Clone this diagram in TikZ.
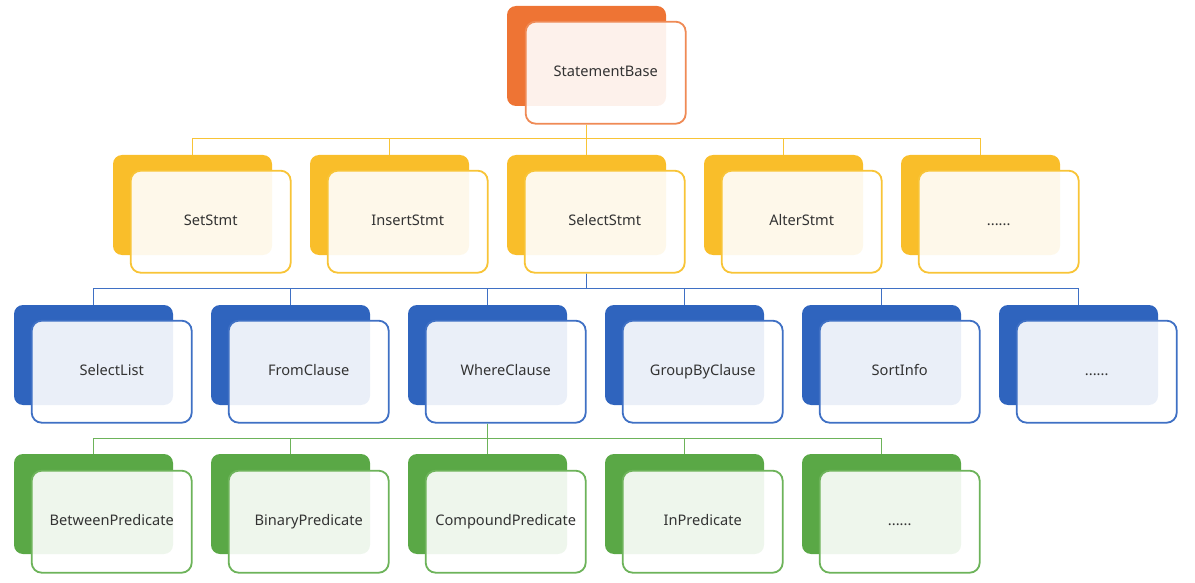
\documentclass[tikz,border=0pt]{standalone}
\usepackage{fontspec}
\setmainfont{Noto Sans}
\usetikzlibrary{positioning}

\definecolor{orgback}{HTML}{EE7434}
\definecolor{orgedge}{HTML}{EF8A55}
\definecolor{yelback}{HTML}{F9BE2A}
\definecolor{yeledge}{HTML}{F8C437}
\definecolor{bluback}{HTML}{2F64BE}
\definecolor{bluedge}{HTML}{3F70C4}
\definecolor{grnback}{HTML}{5AA846}
\definecolor{grnedge}{HTML}{6DB35A}
\definecolor{txtgray}{HTML}{333333}

\newcommand{\moredots}{......}

\tikzset{
	backbox/.style={fill=#1, rounded corners=9pt, minimum width=159pt, minimum height=100pt, inner sep=0pt},
	frontbox/.style={draw=#1, line width=1.8pt, fill=white, fill opacity=0.9, text opacity=1,
		rounded corners=10pt, minimum width=160pt, minimum height=102pt, inner sep=0pt,
		text height=10.5pt, text depth=3.5pt,
		anchor=north west, text=txtgray, font=\fontsize{14.6}{17}\selectfont},
	link/.style={draw=#1, line width=1.7pt}
}

\begin{document}
\begin{tikzpicture}[x=1pt, y=-1pt]

	\useasboundingbox (0,0) rectangle (1195,583);

	% draw root
	\node[backbox=orgback] (baseb) at (586.5,56) {};
	\node[frontbox=orgedge] (base) at ([shift={(18,15)}]baseb.north west) {StatementBase};

	% draw statements
	\foreach \n/\t [count=\i from 0] in {set/SetStmt, ins/InsertStmt, sel/SelectStmt, alt/AlterStmt, stmore/\moredots}
	{
		\node[backbox=yelback] (\n b) at (192.5+197*\i,205) {};
		\draw[link=yeledge] (base.south -| baseb.north) -- ++(0,14) -| (\n b.north);
		\node[frontbox=yeledge] (\n) at ([shift={(17,15)}]\n b.north west) {\t};
	}

	% draw clauses
	\foreach \n/\t [count=\i from 0] in {list/SelectList, from/FromClause, where/WhereClause, group/GroupByClause, sort/SortInfo, clmore/\moredots}
	{
		\node[backbox=bluback] (\n b) at (93.5+197*\i,355) {};
		\draw[link=bluedge] (sel.south -| selb.north) -- ++(0,15) -| (\n b.north);
		\node[frontbox=bluedge] (\n) at ([shift={(17,15)}]\n b.north west) {\t};
	}

	% draw predicates
	\foreach \n/\t [count=\i from 0] in {betw/BetweenPredicate, bin/BinaryPredicate, comp/CompoundPredicate, inp/InPredicate, prmore/\moredots}
	{
		\node[backbox=grnback] (\n b) at (93.5+197*\i,504) {};
		\draw[link=grnedge] (where.south -| whereb.north) -- ++(0,15) -| (\n b.north);
		\node[frontbox=grnedge] (\n) at ([shift={(17,16)}]\n b.north west) {\t};
	}

\end{tikzpicture}
\end{document}
